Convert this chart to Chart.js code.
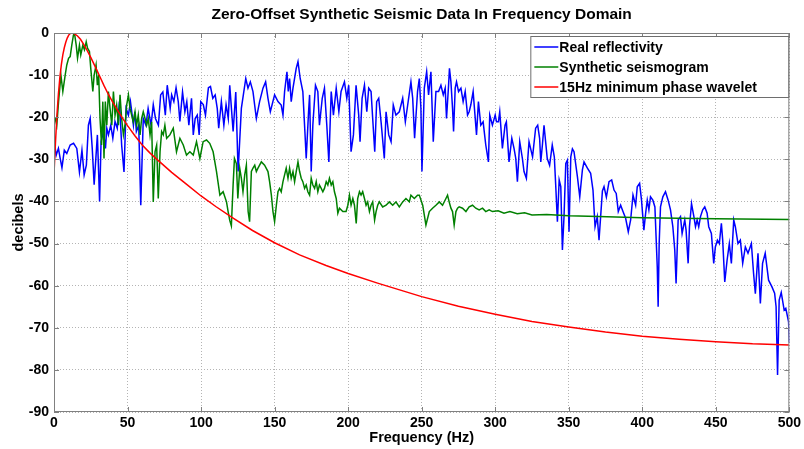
<!DOCTYPE html>
<html>
<head>
<meta charset="utf-8">
<title>Zero-Offset Synthetic Seismic Data In Frequency Domain</title>
<script src="https://cdn.jsdelivr.net/npm/chart.js@4.4.1/dist/chart.umd.min.js"></script>
<style>
    html, body { margin: 0; padding: 0; background: #fff; }
    #wrap { width: 804px; height: 449px; }
</style>
</head>
<body>
<div id="wrap"><canvas id="chart" width="804" height="449"></canvas></div>
<script>
/* =====================
   DATA
===================== */
const chartTitle = 'Zero-Offset Synthetic Seismic Data In Frequency Domain';
const seriesLabels = ['Real reflectivity', 'Synthetic seismogram', '15Hz minimum phase wavelet'];
const seriesColors = ['#0000ff', '#008000', '#ff0000'];

const xTicks = [0, 50, 100, 150, 200, 250, 300, 350, 400, 450, 500];
const yTicks = [-90, -80, -70, -60, -50, -40, -30, -20, -10, 0];

// Real reflectivity
const blueHz = [
    0, 1.5, 3, 4.2, 5.4, 7, 8.7, 11, 13.3, 15.5, 17.3, 19, 20.5, 22, 23.4, 24.6, 26, 27.3, 28.6, 29.5,
    31, 32, 33.6, 35, 35.9, 37, 38.6, 40, 41.5, 43, 44.5, 46, 47.6, 49, 50.6, 52, 54, 55, 56, 57.6,
    59, 60.7, 62.5, 64, 66, 67.5, 69, 71, 72.5, 74, 75.7, 77, 79, 80, 81.5, 83, 84.5, 85.6, 87.4, 89,
    90.3, 91.7, 93.5, 94.7, 96, 97.4, 98.7, 99.8, 101.5, 103, 105, 106.4, 108, 109.6, 111, 112, 113.8, 115.5, 117, 118.5,
    119.5, 121.8, 123.6, 125.2, 127.4, 130.4, 131.9, 133.5, 135.3, 137.6, 139.8, 142.1, 143.9, 145.5, 147.1, 150, 152.3, 154.5, 155.7, 156.8,
    158.4, 159.3, 160.2, 161.3, 162.5, 164.7, 165.9, 167.4, 169.2, 170.6, 171.5, 173.1, 173.8, 174.9, 176, 177.8, 179.4, 180.5, 182.4, 183.9,
    185.5, 186.9, 188.5, 190, 191.9, 193.7, 195.2, 197.5, 199.1, 200.4, 202, 203.6, 205.4, 207.2, 208.1, 209.5, 211.1, 212.7, 214, 215.6,
    216.7, 218.1, 219.4, 220.8, 222.4, 224.6, 225.8, 227.6, 229.2, 230.7, 232.5, 234.8, 237.1, 238.9, 240.5, 242.7, 243.9, 245.2, 247.2, 248.4,
    249.5, 250.2, 251.8, 253.4, 254.7, 256.3, 257.9, 259.7, 261.5, 263.1, 264.7, 266, 266.9, 268.3, 268.9, 269.9, 271, 271.7, 272.8, 273.7,
    275.1, 276.7, 278.2, 279.6, 281.2, 282.3, 283.4, 285, 287.3, 288.6, 290.2, 291.8, 293.6, 295.4, 296.3, 298.1, 300, 300.9, 302.2, 303.1,
    304.9, 306.7, 307.6, 309.4, 311.3, 312.8, 314, 315.1, 316.7, 318.5, 319.6, 321.2, 323, 325.4, 327.5, 328.9, 330.2, 331, 332.1, 333.2,
    335.4, 337, 338.8, 340.2, 341.2, 342.3, 343.5, 344.6, 345.7, 346.8, 348, 349.1, 350.2, 351.4, 352.5, 353.6, 355.9, 357.5, 359.3, 360.4,
    362.7, 364.9, 366.5, 367.9, 369.4, 370.6, 371.7, 372.9, 374, 375.6, 377.4, 379.2, 380.8, 382.3, 383.7, 385.3, 386.9, 388.7, 390.5, 392.1,
    393.7, 395.5, 396.6, 398.2, 399.5, 401.1, 402.3, 403.4, 404.5, 405.6, 407.2, 408.6, 410.2, 410.8, 411.5, 412.4, 414, 415.8, 417.6, 419.2,
    420.8, 422.1, 423, 424.4, 426, 427.1, 428.9, 429.8, 431.2, 432.1, 433.5, 435.1, 436.2, 437.3, 438.4, 439.6, 441.1, 442.5, 444.1, 445.2,
    447, 448.6, 449.7, 451.1, 452.4, 453.8, 454.7, 456.1, 457.7, 459.2, 460.6, 462.2, 463.3, 465.1, 466.7, 468.3, 470.1, 471.9, 474.2, 475.7,
    476.9, 478.7, 480.3, 481.8, 483.6, 485.9, 488.2, 490, 491, 492, 493.1, 494.5, 496.5, 497.6, 499.5, 500
];
const blueDb = [
    -25.4, -29, -27.4, -29.8, -32, -27.8, -28.6, -26.6, -26.2, -27.4, -33, -27.8, -33.7, -31.4, -21.9, -20.3, -27.4, -36, -29, -24.2,
    -40, -25.8, -23.4, -27.4, -22.6, -24.2, -21.9, -25, -21, -22.6, -16.3, -26.6, -33, -17.9, -19.5, -16.3, -21.9, -18.7, -23.4, -21.9,
    -40.9, -20.3, -21.9, -17.9, -21.9, -17, -20.3, -21.9, -14.7, -14, -19.5, -12.4, -17.9, -14.7, -16.3, -13, -16.3, -21, -14, -18.7,
    -16.3, -21.9, -15.5, -24.2, -20.3, -19.5, -24.2, -16.3, -17, -19.5, -13, -12.7, -15.5, -14.7, -17.9, -22.6, -16.3, -21.9, -17, -20.3,
    -12.4, -23.4, -14, -32.9, -17.9, -10.8, -13.1, -11.6, -13.9, -20.3, -16.3, -13.1, -11.6, -15.5, -18.7, -14.7, -16.3, -17.1, -19.5, -13.9,
    -9.2, -13.9, -10.8, -16.3, -13.1, -8.4, -6.8, -10.8, -13.9, -23.4, -29.8, -18.7, -14.7, -32.9, -21.9, -12.4, -13.9, -21.9, -15.5, -13.1,
    -21.9, -30.6, -13.9, -19.5, -13.1, -18.7, -13.9, -11.6, -15.5, -12.4, -28.2, -24.2, -12.4, -19.5, -25.8, -15.5, -12.4, -18.7, -13.1, -13.9,
    -20.3, -28.2, -16.3, -15.5, -21.1, -29.8, -18.7, -24.2, -25.8, -17.1, -19.5, -18.7, -15.5, -21.1, -17.1, -11.6, -15.5, -25, -13.9, -10.8,
    -17.9, -32.9, -13.1, -9.2, -14.7, -9.2, -25.8, -13.9, -13.9, -12.4, -14.7, -13.1, -20.3, -12.4, -8.4, -11.6, -17.9, -23.4, -13.1, -11.6,
    -13.9, -13.1, -16.3, -13.9, -19.5, -18.7, -17.1, -13.9, -24.2, -16.3, -21.9, -21.1, -26.6, -30.6, -19.5, -21.9, -19.5, -21.1, -21.1, -18.7,
    -27.4, -21.9, -21.1, -30.6, -25, -27.4, -29.8, -35.3, -25.8, -29.8, -32.9, -34.5, -25.8, -29.4, -22.6, -21.9, -25, -30.6, -26.6, -21.9,
    -29.8, -31.4, -26.6, -29.4, -36.5, -44.8, -34.9, -36.5, -51.5, -43.6, -31, -30.2, -47.2, -29.4, -27.5, -28.2, -34.1, -38.9, -32.5, -30.6,
    -32.1, -33.3, -37.3, -46, -43.6, -49.2, -43.6, -37.5, -36.5, -39, -35.3, -34.9, -37.3, -38.1, -42.4, -40.9, -42.4, -44, -47.2, -44.4,
    -38.5, -40.9, -36.5, -35.7, -39.7, -46.8, -42.8, -39.7, -42, -38.9, -39.7, -41.3, -55.5, -65, -50, -41.3, -38.9, -37.7, -39.7, -42,
    -46, -51.5, -59.5, -44.4, -43.6, -47.6, -44.4, -46.8, -54.7, -46, -40.5, -43.6, -46, -44.4, -46, -43.6, -42, -41.3, -42.8, -46,
    -47.6, -54.7, -50.8, -49.2, -50, -45.2, -49.2, -59.1, -53.9, -50, -54.7, -44.4, -46, -50, -49.2, -54.7, -50.8, -52.3, -50, -57.1,
    -61.9, -52.3, -64.2, -54.7, -52.3, -58.7, -60.3, -61.8, -65, -81.2, -63.4, -61.6, -65.8, -65.4, -68.6, -73.5
];

// Synthetic seismogram
const greenHz = [
    0, 0.8, 1.9, 3.1, 4.7, 6, 7.6, 8.7, 9.9, 11, 12.1, 13.2, 13.9, 15.1, 16, 17.3, 18.2, 19.6, 20.7, 21.9,
    22.8, 24.1, 25, 26.4, 27.3, 28.6, 29.5, 30.4, 31.3, 32.3, 33.2, 34, 34.9, 35.9, 37, 38.1, 39.3, 40.4, 41.5, 42.6,
    43.8, 44.9, 46, 47.2, 48.3, 49.4, 50.6, 51.7, 52.8, 53.9, 55.1, 56.2, 57.3, 58.5, 59.6, 60.7, 61.9, 63, 64.1, 65.3,
    66.4, 67.5, 68.7, 69.8, 70.9, 72.1, 73.2, 74.3, 75.4, 76.6, 78.8, 81.1, 83.3, 85.6, 87.9, 90.1, 92.4, 94.7, 96.9, 99.2,
    101.4, 103.7, 105.9, 108.2, 110.5, 112.8, 115, 117.3, 118.4, 119.5, 120.6, 121.8, 122.7, 124, 125, 126.3, 127.4, 128.5, 129.7, 130.8,
    132, 133, 134.2, 135.3, 136.5, 137.6, 138.7, 139.8, 141, 143.2, 145.5, 146.6, 147.8, 148.9, 150, 151.2, 152.3, 153.4, 154.5, 155.7,
    156.8, 157.9, 159.1, 160.2, 161.3, 162.5, 163.6, 164.7, 165.9, 167, 168.1, 169.2, 170.4, 171.5, 172.6, 173.8, 174.9, 176, 177.2, 178.3,
    179.4, 180.5, 181.7, 182.8, 183.9, 185.1, 186.2, 187.3, 188.5, 189.6, 190.7, 191.9, 193, 194.1, 196.4, 198.6, 199.8, 200.9, 202, 203.2,
    204.3, 205.5, 206.5, 207.7, 208.8, 209.9, 211.1, 212.2, 213.3, 214.5, 215.6, 216.7, 218, 219, 220.1, 221.2, 223.5, 225.8, 228, 230.3,
    232.5, 234.8, 237.1, 239.3, 241.6, 242.7, 245, 247.2, 248.4, 250.7, 252.9, 255.2, 257.4, 259.7, 262, 264.2, 266.5, 267.6, 268.7, 269.9,
    271, 272.1, 273.3, 274.4, 275.5, 277.8, 280.1, 282.3, 284.6, 286.8, 289.1, 291.4, 293.6, 295.9, 298.1, 302, 306, 310, 315, 320,
    325, 335, 350, 370, 400, 450, 500
];
const greenDb = [
    -20.3, -20.3, -21.9, -16.3, -10, -13.9, -10, -7.6, -6, -5.6, -2.9, -0.5, 0, -2.9, -6, -2.9, -5.2, -2.9, -4, -2.1,
    -3.6, -4.4, -8.4, -13.9, -10, -7.6, -12.4, -10, -20.3, -26.6, -16.3, -29.8, -16.3, -21.9, -13.9, -17.9, -21.9, -13.9, -19.5, -17.1,
    -21.9, -14.7, -20.3, -24.2, -21.9, -17.1, -14.7, -17.9, -19.5, -21.1, -18.7, -21.9, -19.5, -24.2, -20.3, -18.7, -20.3, -21.9, -20.3, -24.2,
    -21.1, -40.1, -28.2, -26.6, -39.3, -28.2, -23.4, -24.2, -21.9, -25, -24.2, -22.6, -28.2, -25, -26.6, -29, -28.2, -29, -25.8, -29.8,
    -25.8, -25.4, -26.2, -28.2, -32.9, -38.5, -37.7, -40.1, -42.4, -44.5, -45.8, -36, -29.8, -31, -39.3, -32.1, -34.5, -37.7, -33.7, -31.4,
    -42.4, -44.8, -32.9, -32.1, -31.4, -32.9, -32.1, -31.4, -30.6, -31.4, -32.9, -35.3, -38.5, -42.4, -44.8, -40.9, -37.7, -36.9, -37.7, -35.3,
    -33.7, -32.1, -34.5, -32.1, -34.5, -32.9, -35.3, -32.9, -30.6, -32.9, -34.5, -35.3, -36.9, -36.1, -37.7, -38.5, -34.5, -36.1, -36.9, -35.3,
    -37.7, -36.1, -36.9, -37.7, -36.9, -35.3, -36.1, -34.5, -36.1, -35.3, -37.7, -39.3, -42.8, -41.6, -42.4, -42.4, -40.9, -38.5, -40.9, -39.3,
    -40.9, -45.2, -39.3, -37.7, -38.5, -37.7, -39.3, -40.9, -40.1, -42.4, -40.9, -40.1, -44.4, -42.4, -40.9, -40.1, -41.3, -40.9, -40.1, -40.9,
    -40.1, -41.3, -40.1, -39.3, -40.1, -38.5, -39.3, -38.5, -38.5, -40.9, -45.6, -42.4, -41.6, -40.9, -40.1, -40.9, -39.3, -38.5, -40.1, -41.6,
    -42.4, -45.6, -42.4, -41.6, -41.3, -41.6, -42.4, -41.3, -40.9, -41.6, -42, -41.6, -42.4, -42, -42.4, -42.2, -42.8, -42.4, -42.9, -42.7,
    -43.2, -43.1, -43.4, -43.6, -43.9, -44.1, -44.3
];

// 15Hz minimum phase wavelet
const redHz = [
    0, 1, 2, 3, 4, 5, 6, 7, 8, 9, 10, 11, 12, 13, 14, 16, 18, 20, 22, 25,
    28, 31, 34, 37, 40, 45, 50, 55, 60, 65, 70, 80, 90, 100, 110, 121, 135, 150, 167, 185,
    200, 220, 235, 250, 275, 300, 325, 350, 375, 400, 425, 450, 475, 500
];
const redDb = [
    -33.5, -26, -19.5, -14.5, -10.5, -7.5, -5.2, -3.5, -2.2, -1.2, -0.5, -0.1, 0, -0.05, -0.2, -0.7, -1.5, -2.6, -3.8, -5.8,
    -8, -10.2, -12.5, -14.6, -16.5, -19.4, -22, -24.4, -26.6, -28.4, -30, -33.1, -35.9, -38.7, -41.2, -43.8, -46.9, -49.8, -52.7, -55.2,
    -57.1, -59.4, -61, -62.6, -64.9, -66.8, -68.5, -69.8, -71, -72, -72.7, -73.3, -73.8, -74.1
];

const toPoints = (xs, ys) => xs.map((x, i) => ({ x, y: ys[i] }));

/* =====================
   PLUGINS
===================== */
const FONT = '"Liberation Sans", Arial, sans-serif';

// title centred over the axes, like matlab does it
const axesTitlePlugin = {
    id: 'axesTitle',
    afterDraw(chart) {
        const { ctx, chartArea: a } = chart;
        ctx.save();
        ctx.font = 'bold 15.5px ' + FONT;
        ctx.fillStyle = '#000';
        ctx.textAlign = 'center';
        ctx.textBaseline = 'middle';
        ctx.fillText(chartTitle, (a.left + a.right) / 2, 15);
        ctx.restore();
    },
};

// box around the axes + inward tick marks
const framePlugin = {
    id: 'frame',
    afterDatasetsDraw(chart) {
        const { ctx, chartArea: a, scales } = chart;
        ctx.save();
        ctx.strokeStyle = '#808080';
        ctx.lineWidth = 1;
        ctx.setLineDash([]);
        ctx.strokeRect(a.left + 0.5, a.top + 0.5, a.right - a.left - 1, a.bottom - a.top - 1);

        ctx.beginPath();
        const len = 5;
        xTicks.forEach((v) => {
            const x = Math.round(scales.x.getPixelForValue(v)) + 0.5;
            ctx.moveTo(x, a.bottom); ctx.lineTo(x, a.bottom - len);
            ctx.moveTo(x, a.top); ctx.lineTo(x, a.top + len);
        });
        yTicks.forEach((v) => {
            const y = Math.round(scales.y.getPixelForValue(v)) + 0.5;
            ctx.moveTo(a.left, y); ctx.lineTo(a.left + len, y);
            ctx.moveTo(a.right, y); ctx.lineTo(a.right - len, y);
        });
        ctx.stroke();
        ctx.restore();
    },
};

// legend box in the top right corner of the plot
const boxLegendPlugin = {
    id: 'boxLegend',
    afterDraw(chart) {
        const { ctx, chartArea: a } = chart;
        const w = 258, h = 61;
        const left = a.right - w - 1, top = a.top + 3;
        ctx.save();
        ctx.fillStyle = '#ffffff';
        ctx.fillRect(left, top, w, h);
        ctx.strokeStyle = '#6e6e6e';
        ctx.lineWidth = 1;
        ctx.strokeRect(left + 0.5, top + 0.5, w, h);

        ctx.font = 'bold 14px ' + FONT;
        ctx.textBaseline = 'middle';
        ctx.fillStyle = '#000';
        chart.data.datasets.forEach((ds, i) => {
            const y = top + 11 + i * 20;
            ctx.strokeStyle = ds.borderColor;
            ctx.lineWidth = 1.5;
            ctx.beginPath();
            ctx.moveTo(left + 4, y);
            ctx.lineTo(left + 28, y);
            ctx.stroke();
            ctx.fillText(ds.label, left + 29, y + 1);
        });
        ctx.restore();
    },
};

/* =====================
   CHART
===================== */
const datasets = [
    { data: toPoints(blueHz, blueDb), order: 3 },
    { data: toPoints(greenHz, greenDb), order: 2 },
    { data: toPoints(redHz, redDb), order: 1 },
].map((ds, i) => ({
    ...ds,
    label: seriesLabels[i],
    borderColor: seriesColors[i],
    backgroundColor: seriesColors[i],
    borderWidth: 1.5,
    pointRadius: 0,
    tension: 0,
    fill: false,
}));

new Chart(document.getElementById('chart'), {
    type: 'line',
    data: { datasets },
    options: {
        responsive: false,
        animation: false,
        layout: { padding: { left: 0, right: 13, top: 33, bottom: 0 } },
        plugins: {
            legend: { display: false },
            tooltip: { enabled: false },
            title: { display: false },
        },
        scales: {
            x: {
                type: 'linear',
                min: 0,
                max: 500,
                afterBuildTicks: (scale) => { scale.ticks = xTicks.map((v) => ({ value: v })); },
                afterFit: (scale) => { scale.height = 37; },
                ticks: {
                    color: '#000',
                    font: { family: FONT, size: 14, weight: 'bold' },
                    padding: 3,
                    maxRotation: 0,
                },
                grid: { color: '#b4b4b4', drawTicks: false, lineWidth: 1 },
                border: { display: false, dash: [1, 2] },
                title: {
                    display: true,
                    text: 'Frequency (Hz)',
                    color: '#000',
                    font: { family: FONT, size: 14.5, weight: 'bold' },
                    padding: { top: 0, bottom: 2 },
                },
            },
            y: {
                type: 'linear',
                min: -90,
                max: 0,
                afterBuildTicks: (scale) => { scale.ticks = yTicks.map((v) => ({ value: v })); },
                afterFit: (scale) => { scale.width = 54; },
                ticks: {
                    color: '#000',
                    font: { family: FONT, size: 14, weight: 'bold' },
                    padding: 5,
                },
                grid: { color: '#b4b4b4', drawTicks: false, lineWidth: 1 },
                border: { display: false, dash: [1, 2] },
                title: {
                    display: true,
                    text: 'decibels',
                    color: '#000',
                    font: { family: FONT, size: 14.5, weight: 'bold' },
                    padding: { top: 10, bottom: 0 },
                },
            },
        },
    },
    plugins: [framePlugin, boxLegendPlugin, axesTitlePlugin],
});
</script>
</body>
</html>
